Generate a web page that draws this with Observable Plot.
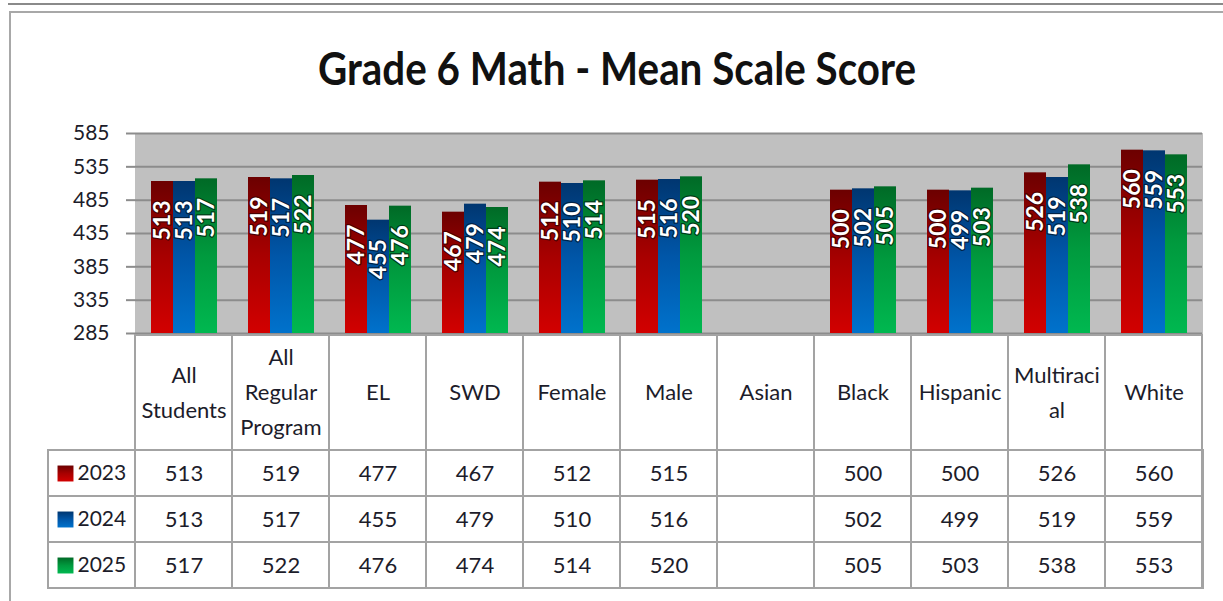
<!DOCTYPE html>
<html>
<head>
<meta charset="utf-8">
<script src="https://cdn.jsdelivr.net/npm/d3@7"></script>
<script src="https://cdn.jsdelivr.net/npm/@observablehq/plot@0.6"></script>
<style>
  body { margin: 0; background: #fff; width: 1223px; height: 601px; overflow: hidden; position: relative; font-family: Lato, sans-serif; }
  #topline { position: absolute; left: 8px; right: 0; top: 3px; height: 2px; background: #8a8a8a; }
  #frameTop { position: absolute; left: 9px; right: 0; top: 11px; height: 2px; background: #a8a8a8; }
  #frameLeft { position: absolute; left: 9px; top: 11px; bottom: 0; width: 2px; background: #a8a8a8; }
  #title { position: absolute; left: 0; width: 1234px; text-align: center; font-weight: 700; color: #111; line-height: 1; white-space: nowrap; font-family: Lato, sans-serif; transform-origin: 50% 88%; transform: scaleY(1.12); }
  .part { position: absolute; left: 0; }
</style>
</head>
<body>
<div id="topline"></div>
<div id="frameTop"></div>
<div id="frameLeft"></div>
<div id="title"></div>
<div id="main" class="part" style="top:120px"></div>
<div id="head" class="part" style="top:334px"></div>
<div id="rows" class="part" style="top:449px"></div>
<script>
// ---- data ----
const titleText = "Grade 6 Math - Mean Scale Score";
const categories = ["All Students", "All Regular Program", "EL", "SWD", "Female", "Male", "Asian", "Black", "Hispanic", "Multiracial", "White"];
const headerLabels = ["All\nStudents", "All\nRegular\nProgram", "EL", "SWD", "Female", "Male", "Asian", "Black", "Hispanic", "Multiraci\nal", "White"];
const years = ["2023", "2024", "2025"];
const s2023 = [513, 519, 477, 467, 512, 515, null, 500, 500, 526, 560];
const s2024 = [513, 517, 455, 479, 510, 516, null, 502, 499, 519, 559];
const s2025 = [517, 522, 476, 474, 514, 520, null, 505, 503, 538, 553];
const yTicks = [285, 335, 385, 435, 485, 535, 585];

// ---- styles ----
const gradStops = {
  "2023": ["#6c0000", "#a80000", "#d20000"],
  "2024": ["#003670", "#0056a8", "#0072cc"],
  "2025": ["#006a26", "#009a3e", "#00b850"]
};
const haloColor = { "2023": "#4a0000", "2024": "#002246", "2025": "#003a16" };
const gridColor = "#8c8c8c";
const tableLine = "#a3a3a3";
const textColor = "#1c1c2a";

const series = [s2023, s2024, s2025];
const data = [];
years.forEach((yr, i) => categories.forEach((c, j) => {
  const v = series[i][j];
  if (v != null) data.push({ category: c, year: yr, value: v });
}));
const grid = [];
years.forEach(yr => categories.forEach(c => grid.push({ category: c, year: yr })));
const gridLines = [];
categories.forEach(c => yTicks.forEach(t => gridLines.push({ category: c, tick: t })));

function addDefs(svg, prefix) {
  const ns = "http://www.w3.org/2000/svg";
  const defs = document.createElementNS(ns, "defs");
  years.forEach(yr => {
    const g = document.createElementNS(ns, "linearGradient");
    g.setAttribute("id", prefix + yr);
    g.setAttribute("x1", "0"); g.setAttribute("y1", "0");
    g.setAttribute("x2", "0"); g.setAttribute("y2", "1");
    gradStops[yr].forEach((col, k, arr) => {
      const s = document.createElementNS(ns, "stop");
      s.setAttribute("offset", String(k / (arr.length - 1)));
      s.setAttribute("stop-color", col);
      g.appendChild(s);
    });
    defs.appendChild(g);
  });
  svg.insertBefore(defs, svg.firstChild);
}

// ---- title ----
const ctx = document.createElement("canvas").getContext("2d");
ctx.font = "700 40px Lato";
const tw = ctx.measureText(titleText).width;
const tfs = 40 * 598 / tw;
const titleEl = document.getElementById("title");
titleEl.textContent = titleText;
titleEl.style.fontSize = tfs + "px";
titleEl.style.top = (86 - 0.887 * tfs) + "px";

// ---- main chart ----
const main = Plot.plot({
  width: 1223,
  height: 232,
  marginTop: 13,
  marginBottom: 19,
  marginLeft: 133,
  marginRight: 20,
  fx: { domain: categories, padding: 0, axis: null },
  x: { domain: years, paddingInner: 0, paddingOuter: 0.66, axis: null },
  y: { domain: [yTicks[0], yTicks[yTicks.length - 1]], axis: null },
  style: { fontFamily: "Lato, sans-serif", background: "transparent" },
  marks: [
    Plot.frame({ fill: "#c0c0c0", stroke: "#c0c0c0", strokeWidth: 1 }),
    Plot.ruleY(gridLines, { fx: "category", y: "tick", stroke: gridColor, strokeWidth: 2 }),
    Plot.axisY({ ticks: yTicks, label: null, tickSize: 9, tickPadding: 17, fontSize: 21, stroke: gridColor, strokeWidth: 2, fill: textColor, strokeOpacity: 1 }),
    ...years.map(yr => Plot.barY(data.filter(d => d.year === yr), {
      fx: "category", x: "year", y1: yTicks[0], y2: "value", fill: `url(#mg${yr})`
    })),
    ...years.map(yr => Plot.text(data.filter(d => d.year === yr), {
      fx: "category", x: "year", y: "value", text: d => String(d.value),
      rotate: -90, textAnchor: "end", dy: 19,
      fill: "white", stroke: haloColor[yr], strokeWidth: 2.5,
      fontWeight: 700, fontSize: 23, fontFamily: "Lato, sans-serif"
    }))
  ]
});
addDefs(main, "mg");
document.getElementById("main").appendChild(main);

// ---- table header ----
const head = Plot.plot({
  width: 1223,
  height: 117,
  marginTop: 1,
  marginBottom: 1,
  marginLeft: 133,
  marginRight: 20,
  x: { domain: categories, padding: 0, axis: null },
  style: { fontFamily: "Lato, sans-serif", background: "transparent" },
  marks: [
    Plot.cell(categories, { x: d => d, fill: "white", stroke: tableLine, strokeWidth: 2 }),
    Plot.text(categories, { x: d => d, text: (d, i) => headerLabels[i], fontSize: 22, lineHeight: 1.6, fill: textColor, frameAnchor: "middle", dy: -4 })
  ]
});
document.getElementById("head").appendChild(head);

// ---- table rows ----
const rows = Plot.plot({
  width: 1223,
  height: 141,
  marginTop: 1,
  marginBottom: 2,
  marginLeft: 48,
  marginRight: 20,
  x: { domain: categories, range: [133, 1203], padding: 0, axis: null },
  y: { domain: years, padding: 0, axis: null },
  style: { fontFamily: "Lato, sans-serif", background: "transparent" },
  marks: [
    Plot.cell(years, { y: d => d, fill: "white", stroke: tableLine, strokeWidth: 2 }),
    Plot.cell(grid, { x: "category", y: "year", fill: "white", stroke: tableLine, strokeWidth: 2 }),
    ...years.map(yr => Plot.dot([yr], { y: d => d, frameAnchor: "left", dx: 17, symbol: "square", r: 9, fill: `url(#rg${yr})` })),
    Plot.text(years, { y: d => d, frameAnchor: "left", dx: 29, textAnchor: "start", text: d => d, fontSize: 21, fill: textColor }),
    Plot.text(data, { x: "category", y: "year", text: d => String(d.value), fontSize: 22, fill: textColor })
  ]
});
addDefs(rows, "rg");
document.getElementById("rows").appendChild(rows);
</script>
</body>
</html>
